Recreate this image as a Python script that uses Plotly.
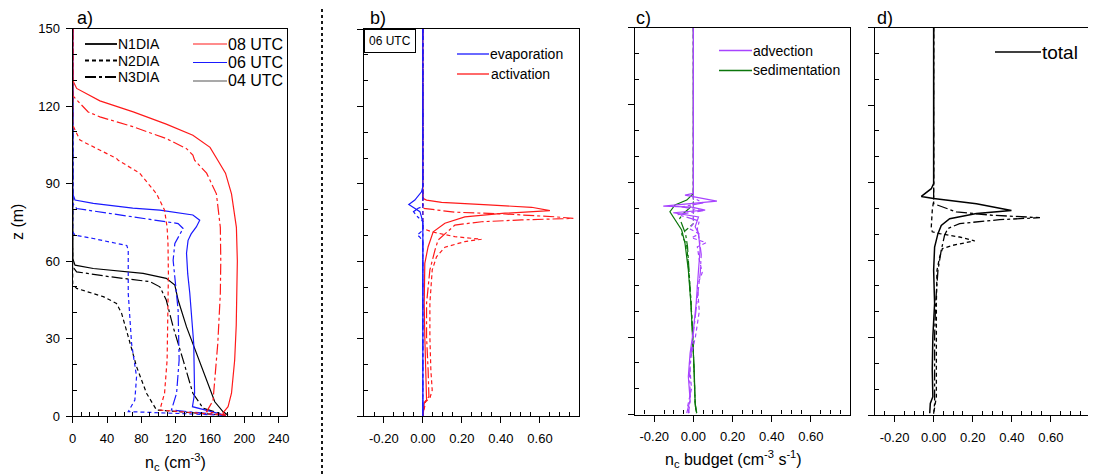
import plotly.graph_objects as go

# ---------------- data ----------------
# panel a) cloud droplet number concentration profiles (cm-3) vs height z (m)
a_08_n1_z = [150, 130, 126.8, 122, 117.7, 113, 108.7, 104, 99, 94, 86, 73, 60, 47.5, 35, 21.7, 8.8, 3.6, 1.2, 0.3]
a_08_n1_v = [0, 0, 4.6, 31.7, 70.5, 109, 140, 160, 169, 178, 185, 190.7, 191.8, 191.4, 190.5, 188.7, 185, 181, 175, 178]
a_08_n3_z = [150, 124, 117.7, 115.8, 112, 107.4, 103.5, 101, 99, 94, 86, 73, 60, 47.5, 28, 15, 6, 1.7, 0.3]
a_08_n3_v = [0, 0, 18, 31.7, 70, 109, 132.6, 140, 142, 156, 167.4, 172, 172.5, 172, 169, 165.5, 163.5, 156, 178]
a_08_n2_z = [150, 112.6, 106.8, 103, 99.7, 99, 94, 86, 79.7, 73, 66.8, 55, 41, 21.7, 8.8, 2.3, 0.3]
a_08_n2_v = [0, 0, 8.5, 31.7, 51, 53, 78, 97.7, 107, 110, 111, 111.5, 111, 110, 107, 101.5, 178]

a_06_n1_z = [150, 86, 83.6, 82.3, 80.5, 79.7, 77.8, 75.8, 73.2, 70.5, 68, 63, 55, 47.5, 28, 8.8, 3.6, 0.3]
a_06_n1_v = [0, 0, 2.7, 24, 70, 101.5, 140, 148, 144, 138, 134.4, 132.6, 134, 136.4, 141, 142, 139.5, 178]
a_06_n3_z = [150, 82.3, 80.3, 78.4, 75.8, 74.5, 72.6, 69.5, 66.8, 60.3, 41, 21.7, 8.8, 2.3, 0.3]
a_06_n3_v = [0, 0, 4.6, 43.4, 101.5, 122.8, 128.6, 123, 119, 117, 122.8, 124, 121, 115, 178]
a_06_n2_z = [150, 71.3, 70, 68.7, 66, 64.2, 55, 47.5, 28, 15.2, 6.2, 1.7, 0.3]
a_06_n2_v = [0, 0, 2.7, 24, 63, 64.7, 64.7, 64.7, 68.6, 74.4, 72.4, 64.7, 178]

a_04_n1_z = [150, 61, 58.4, 57.1, 55.2, 53.3, 50.7, 44.9, 34.5, 24.3, 13.9, 5.5, 1.7, 0.3]
a_04_n1_v = [0, 0, 2.7, 24, 82, 109, 119, 122.8, 132.6, 144, 156, 165.5, 175, 181]
a_04_n3_z = [150, 57.8, 55.8, 53.9, 52, 50, 44.9, 34.5, 21.7, 8.8, 3, 0.3]
a_04_n3_v = [0, 0, 4.6, 43.4, 90, 101.5, 109, 117, 128.6, 140, 152, 178]
a_04_n2_z = [150, 51, 49.4, 46.2, 43.6, 39.7, 30.7, 19.1, 8.8, 2.3, 0.3]
a_04_n2_v = [0, 0, 4.6, 35.6, 51, 57, 64.7, 74.4, 86, 97.7, 178]

# panel b) 06 UTC budget: activation and evaporation (cm-3 s-1)
b_act_n1_z = [150, 84.4, 83.7, 82.8, 81.8, 80.9, 79.6, 78.6, 77.2, 74.7, 71.4, 65.6, 59.2, 43.7, 30.7, 17.8, 6.2, 4.9, 0]
b_act_n1_v = [0, 0, 0.019, 0.096, 0.335, 0.557, 0.651, 0.42, 0.215, 0.113, 0.053, 0.027, 0.01, 0.007, 0.01, 0.014, 0.019, 0.007, 0]
b_act_n3_z = [150, 80.5, 79, 78.3, 77.2, 76.6, 76, 75.3, 74, 70.2, 68.2, 64.3, 56.6, 43.7, 30.7, 17.8, 7.5, 5.5, 0]
b_act_n3_v = [0, 0, 0.164, 0.42, 0.677, 0.771, 0.506, 0.301, 0.164, 0.104, 0.078, 0.062, 0.036, 0.019, 0.019, 0.027, 0.031, 0.01, 0]
b_act_n2_z = [150, 72.7, 71.4, 69.5, 68.5, 67.6, 65.4, 61.7, 56.6, 43.7, 30.7, 17.8, 10, 6.9, 5.5, 0]
b_act_n2_v = [0, 0, 0.045, 0.164, 0.301, 0.215, 0.113, 0.07, 0.048, 0.036, 0.036, 0.041, 0.048, 0.036, 0.014, 0]
b_evp_n1_z = [150, 88.9, 86.9, 83.7, 82, 80.5, 79.2, 77.2, 74.7, 0]
b_evp_n1_v = [0, 0, -0.007, -0.041, -0.072, -0.041, -0.015, -0.007, 0, 0]
b_evp_n3_z = [150, 81.2, 80.5, 79.2, 77.2, 75.5, 0]
b_evp_n3_v = [0, 0, -0.024, -0.048, -0.027, 0, 0]
b_evp_n2_z = [150, 72, 71, 70.2, 69.3, 67.4, 0]
b_evp_n2_v = [0, 0, -0.015, -0.029, -0.015, 0, 0]

# panel c) 06 UTC budget: advection and sedimentation
c_adv_n1_z = [150, 85.7, 85, 82.7, 80.8, 80.4, 79.2, 78.2, 76.6, 72.8, 70.2, 63.8, 56, 43.1, 32.7, 23.7, 14.7, 5.6, 0.5]
c_adv_n1_v = [0, 0, -0.043, 0.12, -0.154, -0.008, 0.06, -0.103, 0.026, 0.009, 0.026, 0.034, 0.026, 0.014, 0, -0.017, -0.026, -0.017, -0.034]
c_adv_n3_z = [150, 84, 82, 80.5, 79, 77.5, 75, 72, 68, 62, 55, 45, 35, 25, 15, 6, 0.5]
c_adv_n3_v = [0, 0, 0.05, -0.06, 0.05, -0.08, 0.03, 0.02, 0.03, 0.04, 0.035, 0.02, 0.005, -0.01, -0.02, -0.015, -0.025]
c_adv_n2_z = [150, 74, 72, 70, 68.5, 66.6, 65, 60, 55, 50, 40, 30, 20, 10, 3, 0]
c_adv_n2_v = [0, 0, -0.02, 0.03, -0.01, 0.065, 0.02, 0.03, 0.045, 0.02, 0.03, 0.01, -0.02, -0.01, -0.03, -0.02]
c_sed_n1_z = [150, 85.7, 83.1, 81.2, 78.6, 75.4, 71.5, 66.3, 56, 43.1, 30.2, 17.2, 4.3, 0.5]
c_sed_n1_v = [0, 0, -0.034, -0.094, -0.12, -0.094, -0.06, -0.043, -0.026, -0.013, -0.003, 0.004, 0.009, 0.017]
c_sed_n3_z = [150, 82, 80, 78, 76, 74, 70, 65, 56, 43, 30, 17, 4, 0.5]
c_sed_n3_v = [0, 0, -0.02, -0.05, -0.07, -0.06, -0.04, -0.03, -0.022, -0.012, -0.003, 0.004, 0.009, 0.015]
c_sed_n2_z = [150, 74, 72, 70, 68, 66, 62, 56, 43, 30, 17, 4, 0.5]
c_sed_n2_v = [0, 0, -0.03, -0.06, -0.05, -0.035, -0.03, -0.024, -0.012, -0.003, 0.004, 0.009, 0.015]

# panel d) 06 UTC total tendency
d_tot_n1_z = [150, 89.6, 87.6, 84.6, 83.8, 81.8, 79.2, 78, 76, 73.4, 70.2, 65, 56, 43.2, 30.3, 17.4, 7.1, 4.5, 0.7]
d_tot_n1_v = [0, 0, -0.012, -0.063, 0, 0.219, 0.398, 0.219, 0.082, 0.039, 0.022, 0.005, 0, 0.005, -0.004, -0.007, -0.004, -0.017, -0.02]
d_tot_n3_z = [150, 81.8, 78.6, 77.3, 76.4, 75.6, 74.1, 72.2, 69.6, 63.8, 56, 43.2, 30.3, 17.4, 4.5, 0.5]
d_tot_n3_v = [0, 0, 0.116, 0.304, 0.544, 0.338, 0.133, 0.073, 0.056, 0.039, 0.022, 0.01, 0.005, 0.005, 0.005, 0]
d_tot_n2_z = [150, 83.1, 79.2, 72.8, 70.9, 70.2, 68.9, 67.4, 65.7, 64.4, 61.2, 56, 43.2, 30.3, 17.4, 7.1, 0.5]
d_tot_n2_v = [0, 0, -0.007, -0.012, -0.007, 0.031, 0.133, 0.21, 0.099, 0.045, 0.031, 0.017, 0.014, 0.014, 0.017, 0.014, 0]

a_xticks = [0, 40, 80, 120, 160, 200, 240]
b_xticks = [-0.2, 0.0, 0.2, 0.4, 0.6]
b_xticklabels = ["-0.20", "0.00", "0.20", "0.40", "0.60"]
z_ticks = [0, 30, 60, 90, 120, 150]
style_names = ["N1DIA", "N2DIA", "N3DIA"]
time_names = ["08 UTC", "06 UTC", "04 UTC"]

# ---------------- styling ----------------
OFF = 8                      # page body margin of the html page
W, H = 1096 - OFF, 474 - OFF  # figure size inside the window
FONT = "Liberation Sans, Arial, sans-serif"
RED, BLUE, BLACK = "#FF1A1A", "#1A1AFF", "#000000"
PURPLE, GREEN = "#A844FF", "#0B760B"
DASH = {"N1": "solid", "N2": "4px,3px", "N3": "11px,3px,3px,3px"}

def px(x):
    return (x - OFF) / W

def py(y):
    return 1 - (y - OFF) / H

fig = go.Figure()

def add(ax, v, z, color, style, width=1.2):
    fig.add_trace(go.Scatter(
        x=v, y=z, mode="lines", xaxis="x" + ax, yaxis="y" + ax,
        line=dict(color=color, dash=DASH[style], width=width),
        showlegend=False, hoverinfo="skip"))

# panel a
add("", a_04_n2_v, a_04_n2_z, BLACK, "N2")
add("", a_04_n3_v, a_04_n3_z, BLACK, "N3")
add("", a_04_n1_v, a_04_n1_z, BLACK, "N1")
add("", a_06_n2_v, a_06_n2_z, BLUE, "N2")
add("", a_06_n3_v, a_06_n3_z, BLUE, "N3")
add("", a_06_n1_v, a_06_n1_z, BLUE, "N1")
add("", a_08_n2_v, a_08_n2_z, RED, "N2")
add("", a_08_n3_v, a_08_n3_z, RED, "N3")
add("", a_08_n1_v, a_08_n1_z, RED, "N1")
# panel b
add("2", b_act_n2_v, b_act_n2_z, RED, "N2")
add("2", b_act_n3_v, b_act_n3_z, RED, "N3")
add("2", b_act_n1_v, b_act_n1_z, RED, "N1")
add("2", b_evp_n2_v, b_evp_n2_z, BLUE, "N2")
add("2", b_evp_n3_v, b_evp_n3_z, BLUE, "N3")
add("2", b_evp_n1_v, b_evp_n1_z, BLUE, "N1")
# panel c
add("3", c_sed_n2_v, c_sed_n2_z, GREEN, "N2")
add("3", c_sed_n3_v, c_sed_n3_z, GREEN, "N3")
add("3", c_sed_n1_v, c_sed_n1_z, GREEN, "N1")
add("3", c_adv_n2_v, c_adv_n2_z, PURPLE, "N2")
add("3", c_adv_n3_v, c_adv_n3_z, PURPLE, "N3")
add("3", c_adv_n1_v, c_adv_n1_z, PURPLE, "N1")
# panel d
add("4", d_tot_n2_v, d_tot_n2_z, BLACK, "N2", 1.3)
add("4", d_tot_n3_v, d_tot_n3_z, BLACK, "N3", 1.3)
add("4", d_tot_n1_v, d_tot_n1_z, BLACK, "N1", 1.5)

# ---------------- axes ----------------
tickfont = dict(family=FONT, size=13, color="black")
base = dict(showline=True, linecolor="black", linewidth=1.2, mirror=True, automargin=False,
            ticks="outside", ticklen=6, tickwidth=1.1, tickcolor="black",
            showgrid=False, zeroline=False, tickfont=tickfont, ticklabelstandoff=4)

ya_minor = dict(tickmode="array", tickvals=[10, 20, 40, 50, 70, 80, 100, 110, 130, 140],
                ticks="inside", ticklen=4, tickwidth=1, tickcolor="black", showgrid=False)

def yaxis(domain, labels):
    return dict(base, domain=domain, range=[0, 150], tickmode="array", tickvals=z_ticks,
                showticklabels=labels, minor=ya_minor)

xa_minor = dict(tickmode="array", tickvals=[10, 20, 30, 50, 60, 70, 90, 100, 110, 130, 140, 150,
                                             170, 180, 190, 210, 220, 230],
                ticks="inside", ticklen=4, tickwidth=1, tickcolor="black", showgrid=False)
xb_minor = dict(tickmode="array", tickvals=[-0.25, -0.15, -0.1, -0.05, 0.05, 0.1, 0.15, 0.25, 0.3, 0.35,
                                             0.45, 0.5, 0.55, 0.65, 0.7, 0.75],
                ticks="inside", ticklen=4, tickwidth=1, tickcolor="black", showgrid=False)

def xbudget(domain, anchor):
    return dict(base, domain=domain, anchor=anchor, range=[-0.3, 0.8], tickmode="array",
                tickvals=b_xticks, ticktext=b_xticklabels, minor=xb_minor)

fig.update_layout(
    template="none",
    width=W, height=H, margin=dict(l=0, r=0, t=0, b=0, pad=0),
    paper_bgcolor="white", plot_bgcolor="white", showlegend=False,
    font=dict(family=FONT, color="black"),
    xaxis=dict(base, domain=[px(72.7), px(287.3)], anchor="y", range=[0, 250],
               tickmode="array", tickvals=a_xticks, minor=xa_minor),
    yaxis=dict(yaxis([py(416), py(28.5)], True), anchor="x", ticklabelstandoff=3),
    xaxis2=xbudget([px(364.3), px(579)], "y2"),
    yaxis2=dict(yaxis([py(416), py(29)], False), anchor="x2"),
    xaxis3=xbudget([px(634.7), px(850)], "y3"),
    yaxis3=dict(yaxis([py(414.5), py(27.5)], False), anchor="x3"),
    xaxis4=xbudget([px(875), px(1090)], "y4"),
    yaxis4=dict(yaxis([py(415), py(27.5)], False), anchor="x4"),
)

# ---------------- annotations / legend samples ----------------
ann = []
shapes = []

def text(x, y, s, size, xanchor="left", yanchor="middle", **kw):
    ann.append(dict(x=px(x), y=py(y), xref="paper", yref="paper", text=s, showarrow=False,
                    xanchor=xanchor, yanchor=yanchor, borderpad=0,
                    font=dict(family=FONT, size=size, color="black"), **kw))

def seg(x0, x1, y, color, dash="solid", width=1.3):
    shapes.append(dict(type="line", xref="paper", yref="paper", x0=px(x0), x1=px(x1), y0=py(y), y1=py(y),
                       layer="above", line=dict(color=color, width=width, dash=dash)))

# panel labels
text(76, 17.5, "a)", 18)
text(369, 17.5, "b)", 18)
text(635, 17.5, "c)", 18)
text(876, 17.5, "d)", 18)

# axis titles
text(18, 222, "z (m)", 16, xanchor="center", textangle=-90)
text(175, 462, "n<sub>c</sub> (cm<sup>-3</sup>)", 16, xanchor="center")
text(733, 459, "n<sub>c</sub> budget (cm<sup>-3</sup> s<sup>-1</sup>)", 16, xanchor="center")

# panel a legends
for i, (nm, st) in enumerate(zip(style_names, ["N1", "N2", "N3"])):
    y = 44 + i * 16.5
    seg(85, 117, y, BLACK, DASH[st], 1.8)
    text(117, y, nm, 14)
for i, (nm, col) in enumerate(zip(time_names, [RED, BLUE, "#555555"])):
    y = 44 + i * 18.5
    seg(193, 227, y, col, "solid", 1.2)
    text(227, y, nm, 16)

# panel b
ann.append(dict(x=px(364.3), y=py(29), xref="paper", yref="paper", text="06 UTC", showarrow=False,
                xanchor="left", yanchor="top", bordercolor="black", borderwidth=1, borderpad=4,
                bgcolor="white", font=dict(family=FONT, size=12, color="black")))
seg(457, 489, 54, BLUE)
text(489, 54, "evaporation", 14)
seg(457, 489, 74, RED)
text(490, 74, "activation", 14)

# panel c
seg(719, 752, 50.5, PURPLE)
text(752, 50.5, "advection", 14)
seg(719, 752, 70.5, GREEN)
text(752, 70.5, "sedimentation", 14)

# panel d
seg(995, 1041, 52, BLACK, "solid", 1.4)
text(1041, 52, "total", 19)

# dotted separator
shapes.append(dict(type="line", xref="paper", yref="paper", x0=px(322), x1=px(322), y0=0, y1=1,
                   line=dict(color="black", width=1.8, dash="dot")))

fig.update_layout(annotations=ann, shapes=shapes)
fig.write_html("out.html")
